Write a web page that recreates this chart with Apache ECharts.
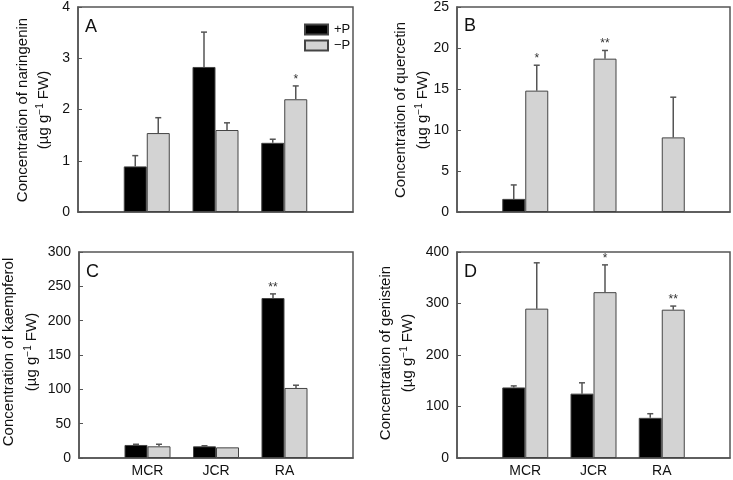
<!DOCTYPE html>
<html><head><meta charset="utf-8">
<script src="https://cdn.jsdelivr.net/npm/echarts@6/dist/echarts.min.js"></script>
<style>html,body{margin:0;padding:0;background:#fff}#c{width:733px;height:480px}</style>
</head><body><div id="c"></div>
<script>
const categories = ['MCR', 'JCR', 'RA'];
const seriesNames = ['+P', '\u2212P'];

const naringeninPlus = [0.89, 2.83, 1.35];
const naringeninPlusSE = [0.21, 0.68, 0.07];
const naringeninMinus = [1.54, 1.60, 2.20];
const naringeninMinusSE = [0.30, 0.14, 0.26];
const naringeninPlusSig = ['', '', ''];
const naringeninMinusSig = ['', '', '*'];

const quercetinPlus = [1.6, 0, 0];
const quercetinPlusSE = [1.7, 0, 0];
const quercetinMinus = [14.8, 18.7, 9.1];
const quercetinMinusSE = [3.1, 1.0, 4.9];
const quercetinPlusSig = ['', '', ''];
const quercetinMinusSig = ['*', '**', ''];

const kaempferolPlus = [19, 17, 233];
const kaempferolPlusSE = [1, 0.8, 6];
const kaempferolMinus = [17, 15.5, 102];
const kaempferolMinusSE = [3, 0, 4];
const kaempferolPlusSig = ['', '', '**'];
const kaempferolMinusSig = ['', '', ''];

const genisteinPlus = [137, 125, 78];
const genisteinPlusSE = [3, 21, 8];
const genisteinMinus = [290, 322, 288];
const genisteinMinusSE = [89, 53, 7];
const genisteinPlusSig = ['', '', ''];
const genisteinMinusSig = ['', '*', '**'];

const yMax = [4, 25, 300, 400];
const yStep = [1, 5, 50, 100];
const yTitles = ['naringenin', 'quercetin', 'kaempferol', 'genistein'];
const unitText = '(\u00b5g g{sup|\u22121} FW)';
const panelLetters = ['A', 'B', 'C', 'D'];

const panels = [
  [naringeninPlus, naringeninPlusSE, naringeninPlusSig, naringeninMinus, naringeninMinusSE, naringeninMinusSig],
  [quercetinPlus, quercetinPlusSE, quercetinPlusSig, quercetinMinus, quercetinMinusSE, quercetinMinusSig],
  [kaempferolPlus, kaempferolPlusSE, kaempferolPlusSig, kaempferolMinus, kaempferolMinusSE, kaempferolMinusSig],
  [genisteinPlus, genisteinPlusSE, genisteinPlusSig, genisteinMinus, genisteinMinusSE, genisteinMinusSig]
];

const FONT = 'Liberation Sans, Arial, Helvetica, sans-serif';
const LINE = '#555';
const TXT = '#111';
const grids = [
  {left: 78, top: 7, width: 275, height: 205},
  {left: 457, top: 6, width: 273, height: 206},
  {left: 79, top: 252, width: 274, height: 206},
  {left: 457, top: 252, width: 273, height: 206}
];
// centres of the two rotated title lines: [x1, x2, y]
const titlePos = [[23, 44, 110], [401, 423, 110], [9, 32, 352], [386, 408, 353]];
const BW = 23;
const padCats = [''].concat(categories, ['']);
const pad = arr => ['-'].concat(arr.map(v => (v === 0 ? '-' : v)), ['-']);

function errSeries(gi, vals, se, sig, offset) {
  return {
    type: 'custom', xAxisIndex: gi, yAxisIndex: gi, z: 5, silent: true,
    data: vals.map((v, k) => [k + 1, v, v + se[k]]),
    renderItem: function (params, api) {
      const x = api.value(0), v = api.value(1), top = api.value(2);
      const s = sig[params.dataIndex];
      const p0 = api.coord([x, v]);
      const p1 = api.coord([x, top]);
      const cx = p0[0] + offset;
      const children = [];
      if (top > v) {
        children.push({type: 'line', shape: {x1: cx, y1: p0[1], x2: cx, y2: p1[1]}, style: {stroke: LINE, lineWidth: 1.5}});
        children.push({type: 'line', shape: {x1: cx - 3, y1: p1[1], x2: cx + 3, y2: p1[1]}, style: {stroke: LINE, lineWidth: 1.5}});
      }
      if (s) {
        children.push({type: 'text', x: cx, y: p1[1] - 6.5, style: {text: s, fontSize: 12, fontFamily: FONT, fill: '#333', align: 'center', verticalAlign: 'middle'}});
      }
      return {type: 'group', children: children};
    }
  };
}

const series = [];
const xAxes = [], yAxes = [], gridOpts = [], graphics = [];
panels.forEach((p, gi) => {
  gridOpts.push(Object.assign({show: true, borderColor: LINE, borderWidth: 1.5, backgroundColor: 'transparent'}, grids[gi]));
  xAxes.push({
    type: 'category', gridIndex: gi, data: padCats, boundaryGap: false,
    axisLine: {lineStyle: {color: LINE, width: 1.5}}, axisTick: {show: false},
    axisLabel: {show: gi >= 2, interval: 0, margin: 6, fontSize: 14, fontFamily: FONT, color: TXT}
  });
  yAxes.push({
    type: 'value', gridIndex: gi, min: 0, max: yMax[gi], interval: yStep[gi],
    axisLine: {show: true, lineStyle: {color: LINE, width: 1.5}},
    axisTick: {show: true, inside: true, length: 4, lineStyle: {color: LINE, width: 1}},
    splitLine: {show: false},
    axisLabel: {margin: 8, fontSize: 14, fontFamily: FONT, color: TXT}
  });
  series.push({
    name: seriesNames[0], type: 'bar', xAxisIndex: gi, yAxisIndex: gi, data: pad(p[0]),
    barWidth: BW, barGap: '0%', itemStyle: {color: '#000', borderColor: '#444', borderWidth: 1}
  });
  series.push({
    name: seriesNames[1], type: 'bar', xAxisIndex: gi, yAxisIndex: gi, data: pad(p[3]),
    barWidth: BW, barGap: '0%', itemStyle: {color: '#d3d3d3', borderColor: '#444', borderWidth: 1}
  });
  series.push(errSeries(gi, p[0], p[1], p[2], -BW / 2));
  series.push(errSeries(gi, p[3], p[4], p[5], BW / 2));
  graphics.push({type: 'text', left: grids[gi].left + 7, top: grids[gi].top + 11,
    style: {text: panelLetters[gi], fontSize: 18, fontFamily: FONT, fill: TXT}});
  const tp = titlePos[gi];
  graphics.push({type: 'text', x: tp[0], y: tp[2], rotation: Math.PI / 2,
    style: {text: 'Concentration of ' + yTitles[gi], fontSize: 15, fontFamily: FONT, fill: TXT, align: 'center', verticalAlign: 'middle'}});
  graphics.push({type: 'text', x: tp[1], y: tp[2], rotation: Math.PI / 2,
    style: {text: unitText, fontSize: 15, fontFamily: FONT, fill: TXT, align: 'center', verticalAlign: 'middle',
      rich: {sup: {fontSize: 10, fontFamily: FONT, fill: TXT, padding: [0, 0, 7, 0]}}}});
});

const chart = echarts.init(document.getElementById('c'), null, {renderer: 'canvas'});
chart.setOption({
  animation: false,
  backgroundColor: '#fff',
  grid: gridOpts,
  xAxis: xAxes,
  yAxis: yAxes,
  series: series,
  graphic: graphics,
  legend: {
    data: seriesNames, orient: 'vertical', left: 299, top: 18, itemWidth: 23, itemHeight: 10, itemGap: 3,
    icon: 'rect', selectedMode: false,
    textStyle: {fontSize: 13, fontFamily: FONT, color: TXT, padding: [0, 0, 0, 1]}
  }
});
</script></body></html>
